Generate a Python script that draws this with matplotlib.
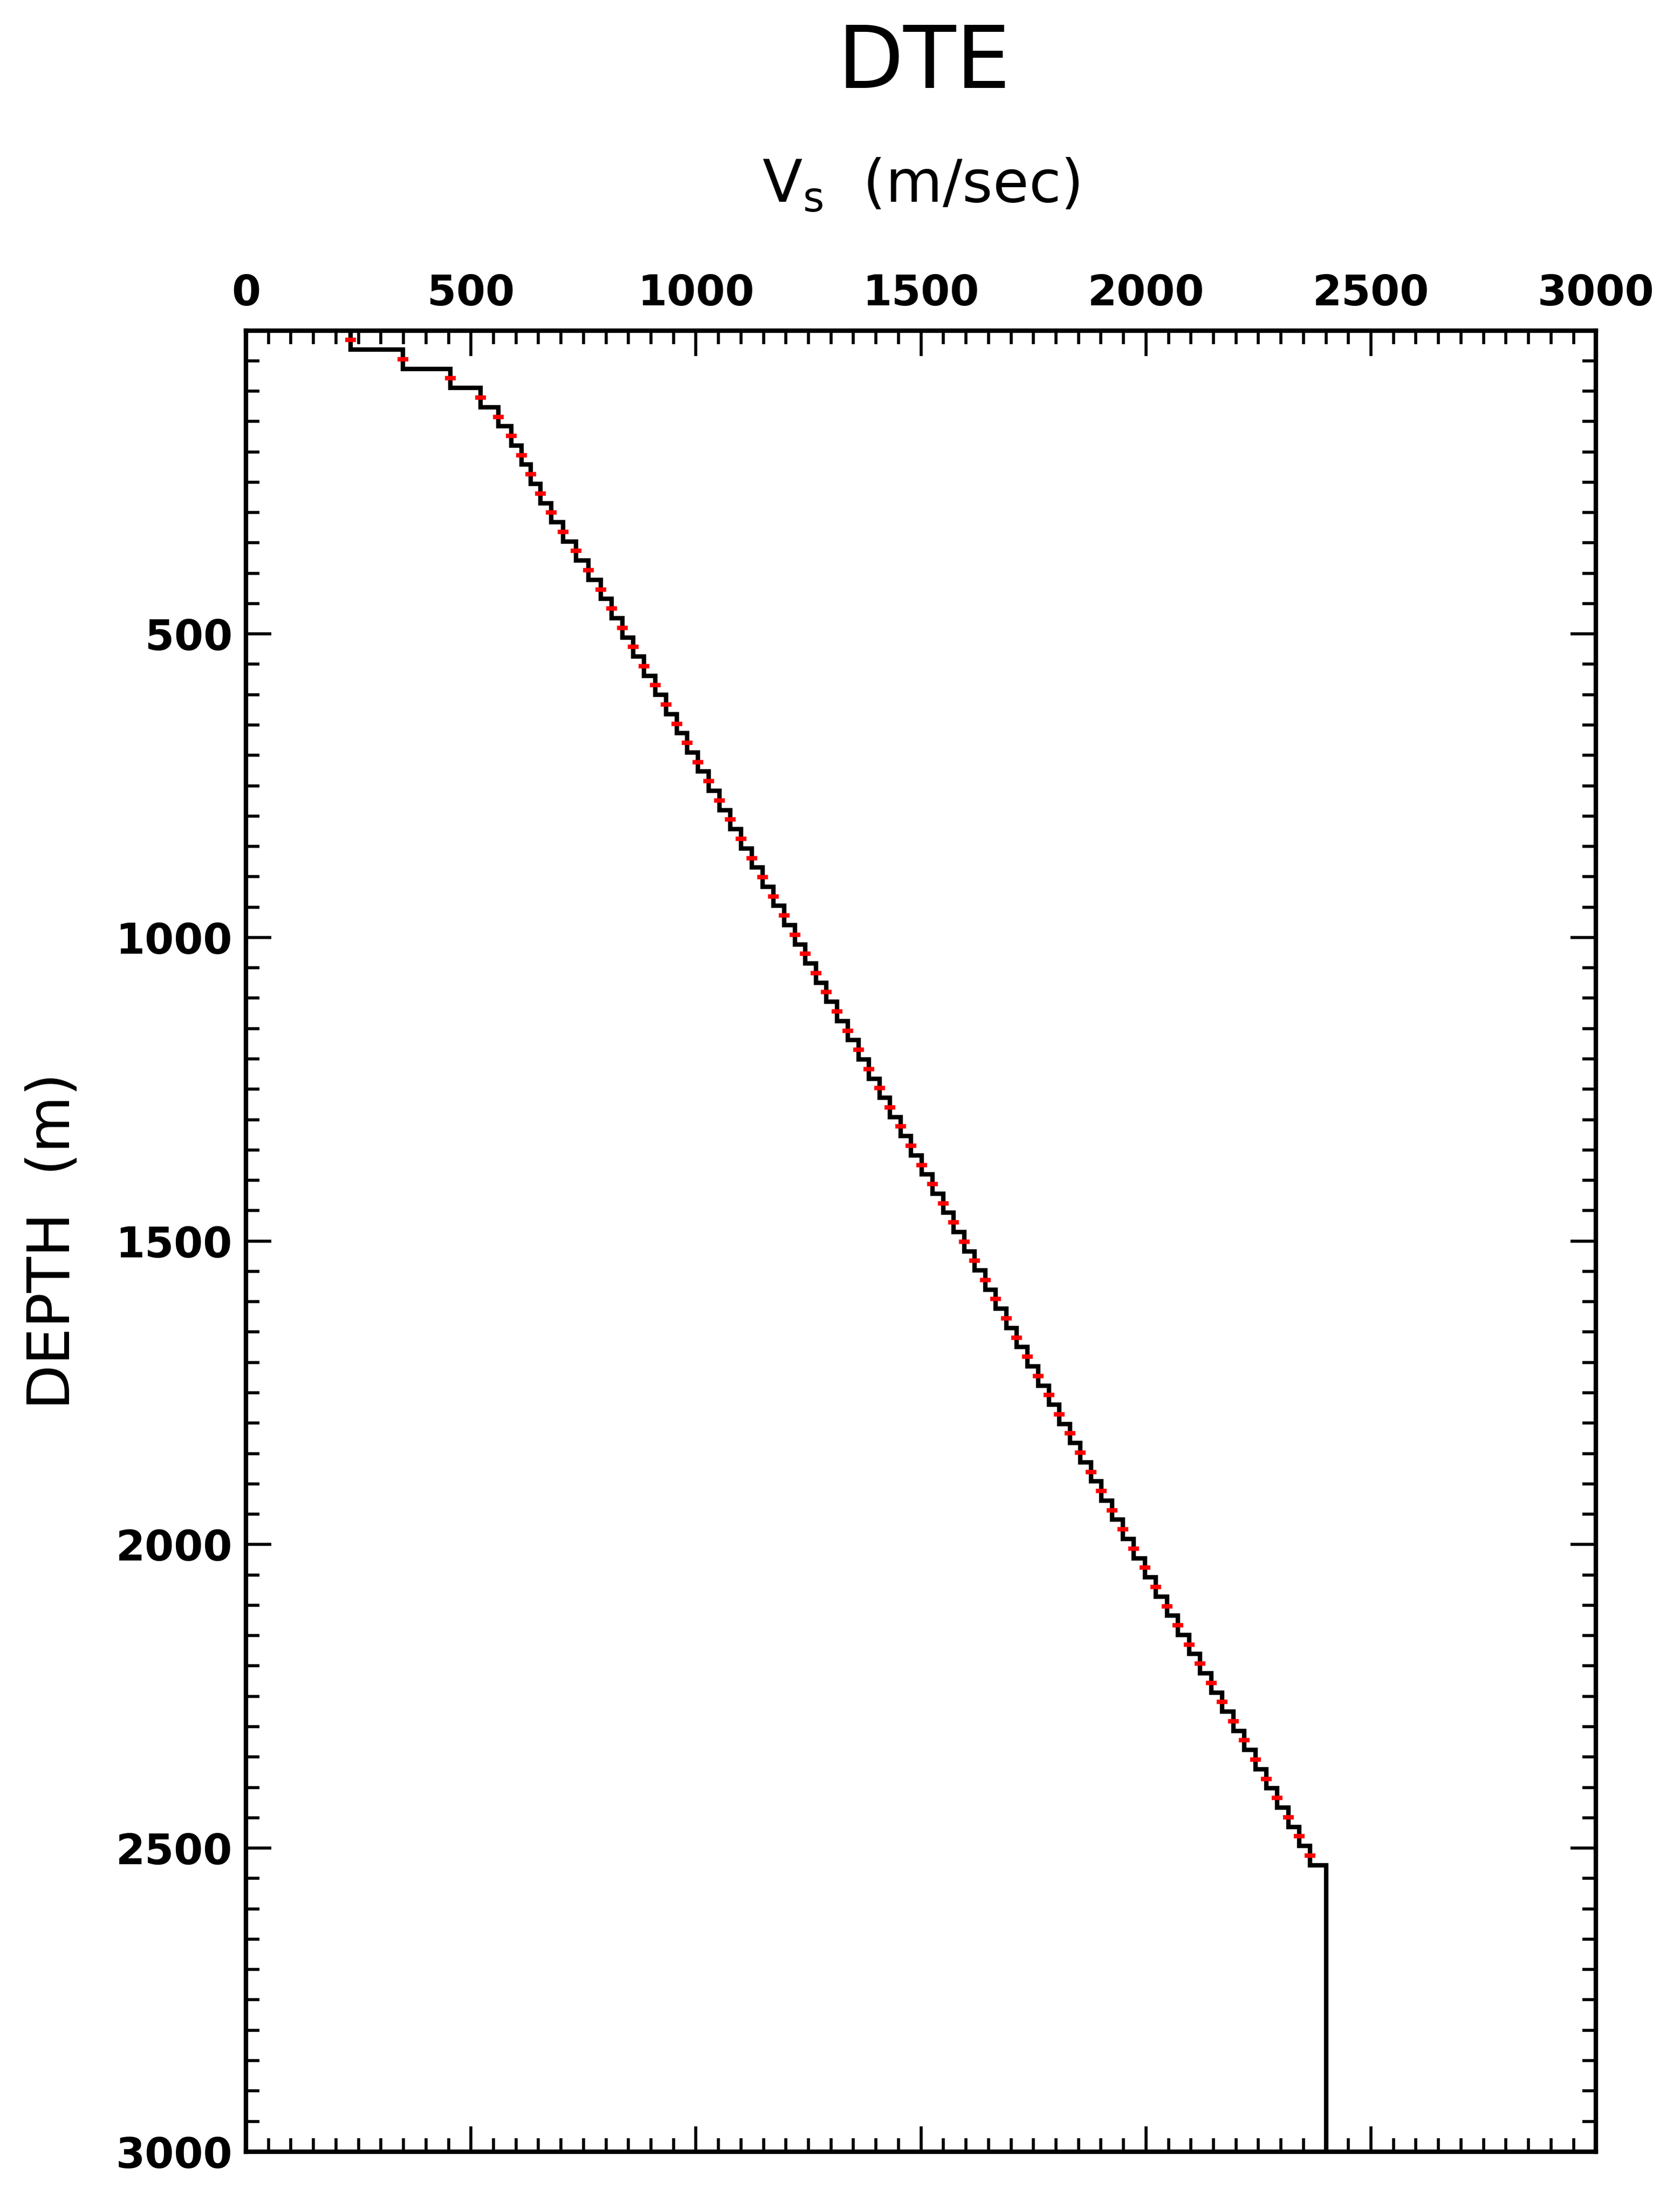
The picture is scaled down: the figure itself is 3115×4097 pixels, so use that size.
import numpy as np
import matplotlib
matplotlib.use("Agg")
import matplotlib.pyplot as plt
from matplotlib.ticker import MultipleLocator, FixedLocator

title = "DTE"
layer_thickness = 31.6   # m
halfspace_bottom = 3000
vs_layers = [233, 349, 454, 521, 561, 589, 612, 633, 654, 678, 705, 733, 761, 789,
             813, 837, 861, 885, 909, 933, 957, 980, 1004, 1028, 1052, 1076, 1100, 1124,
             1148, 1172, 1196, 1220, 1243, 1267, 1290, 1314, 1337, 1361, 1384, 1408,
             1431, 1455, 1478, 1502, 1525, 1549, 1572, 1596, 1619, 1643, 1666, 1690,
             1713, 1737, 1760, 1784, 1807, 1831, 1854, 1878, 1901, 1925, 1949, 1973,
             1998, 2022, 2047, 2071, 2096, 2120, 2145, 2169, 2194, 2218, 2243, 2267,
             2292, 2316, 2341, 2365]
vs_halfspace = 2400
x_ticks = [0, 500, 1000, 1500, 2000, 2500, 3000]
y_ticks = [500, 1000, 1500, 2000, 2500, 3000]

n = len(vs_layers)
edges = np.concatenate([np.arange(n + 1) * layer_thickness, [halfspace_bottom]])
values = np.array(vs_layers + [vs_halfspace], dtype=float)
mids = (np.arange(n) + 0.5) * layer_thickness

fig = plt.figure(figsize=(31.15, 40.97), dpi=100)
ax = fig.add_axes([0.1464, 0.0264, 0.8036, 0.8241])
ax.stairs(values, edges, orientation='horizontal', baseline=None,
          color='black', linewidth=6)
ax.plot(vs_layers, mids, linestyle='none', marker='_', color='red',
        markersize=14, markeredgewidth=6, zorder=3)
ax.plot([0], [0], linestyle='none', marker='s', color='red', markersize=4, clip_on=False)

ax.set_xlim(0, 3000)
ax.set_ylim(3000, 0)
ax.xaxis.set_major_locator(FixedLocator(x_ticks))
ax.xaxis.set_minor_locator(MultipleLocator(50))
ax.yaxis.set_major_locator(FixedLocator(y_ticks))
ax.yaxis.set_minor_locator(MultipleLocator(50))
ax.tick_params(which='both', direction='in', top=True, bottom=True, left=True, right=True,
               labeltop=True, labelbottom=False, width=4)
ax.tick_params(which='major', length=34)
ax.tick_params(which='minor', length=18)
for lab in ax.get_xticklabels() + ax.get_yticklabels():
    lab.set_fontsize(56)
    lab.set_fontweight('bold')
ax.tick_params(axis='x', pad=22)
ax.tick_params(axis='y', pad=18)
for s in ax.spines.values():
    s.set_linewidth(6)

ax.set_xlabel(r"V$_\mathregular{s}$  (m/sec)", fontsize=78, labelpad=95)
ax.xaxis.set_label_position('top')
ax.set_ylabel("DEPTH  (m)", fontsize=78, labelpad=45)
fig.text(0.55, 0.971, title, fontsize=115, ha='center', va='center')

fig.savefig("out.png", dpi=100)
